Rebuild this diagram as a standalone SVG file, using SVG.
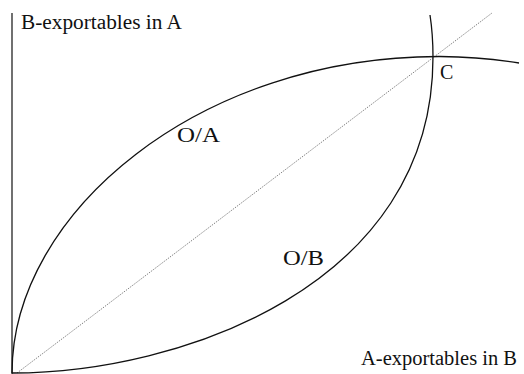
<svg xmlns="http://www.w3.org/2000/svg" width="524" height="374" viewBox="0 0 524 374">
<style>
text{font-family:"Liberation Serif","Times New Roman",serif;font-size:20px;fill:#111}
.curve{fill:none;stroke:#111;stroke-width:1.3}
.axis{fill:none;stroke:#111;stroke-width:1.2}
.diag{fill:none;stroke:#777;stroke-width:1;stroke-dasharray:1.2 1.2}
</style>
<rect width="524" height="374" fill="#fff"/>
<g id="connectors">
<path id="axis-y" class="axis" d="M12 13 V374"/>
<path id="diagonal" class="diag" d="M17 373 L492 13"/>
<path id="curve-OA" class="curve" d="M12 373 C12 212 200 56 440 56.5 C475 57 500 60 519 63"/>
<path id="curve-OB" class="curve" d="M12 373 C180 373 433 286 433 57 C433 40 432 28 430 15"/>
</g>
<g id="label-yaxis"><text x="21" y="29" textLength="161" lengthAdjust="spacingAndGlyphs">B-exportables in A</text></g>
<g id="label-xaxis"><text x="361" y="365" textLength="156" lengthAdjust="spacingAndGlyphs">A-exportables in B</text></g>
<g id="node-OA"><text x="177" y="142" textLength="43" lengthAdjust="spacingAndGlyphs">O/A</text></g>
<g id="node-OB"><text x="283" y="265" textLength="41" lengthAdjust="spacingAndGlyphs">O/B</text></g>
<g id="node-C"><text x="440" y="79">C</text></g>
</svg>
